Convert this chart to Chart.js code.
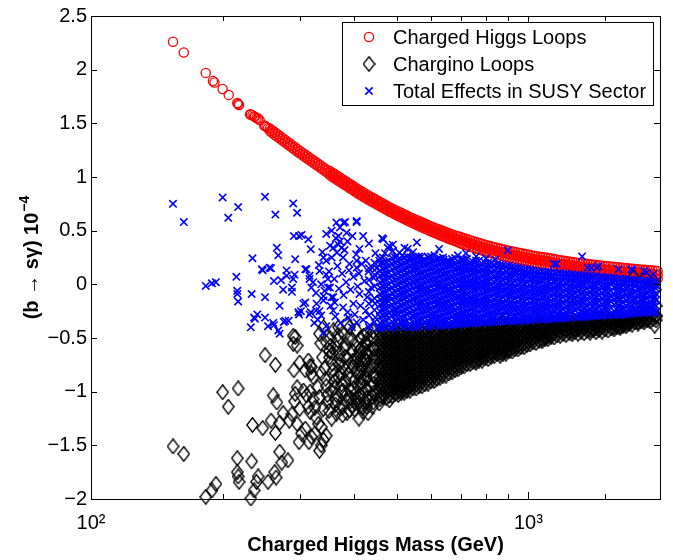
<!DOCTYPE html>
<html><head><meta charset="utf-8">
<script src="https://cdn.jsdelivr.net/npm/chart.js@4.4.1/dist/chart.umd.min.js"></script>
<style>html,body{margin:0;padding:0;background:#fff}canvas{display:block}</style>
</head><body>
<canvas id="c" width="673" height="560"></canvas>
<script>
// ---------- data ----------
const seriesLabels = ['Charged Higgs Loops', 'Chargino Loops', 'Total Effects in SUSY Sector'];
const xTitle = 'Charged Higgs Mass (GeV)';
const yTitleBase = '(b \u2192 s\u03B3) 10';
const yTitleExp = '\u22124';
const xTickLabels = {100: '10\u00B2', 1000: '10\u00B3'};
const yRange = [-2, 2.5];
const xRange = [100, 2000];

// Charged Higgs loops, isolated circles: [mass, value]
const chargedHiggs = [[154,2.26],[163,2.16],[183,1.97],[190,1.895],[191.5,1.88],[200,1.82],[206.5,1.765],[216,1.69],[217,1.68],[218,1.67],[231,1.585],[232,1.58],[234,1.575],[236,1.565],[237,1.56],[239,1.55],[241,1.545],[243,1.53],[249,1.48],[250,1.475],[252,1.465],[254,1.455]];

// Charged Higgs loops, continuous band read column by column: [mass, [values]]
const chargedHiggsColumns = [
[256.6,[1.451,1.427]],[260.0,[1.434,1.41]],[263.4,[1.416,1.392]],[266.9,[1.399,1.375]],
[270.4,[1.382,1.358]],[274.0,[1.364,1.34]],[277.6,[1.347,1.323]],[281.3,[1.329,1.305]],
[285.1,[1.312,1.288]],[288.9,[1.294,1.27]],[292.7,[1.277,1.253]],[296.6,[1.259,1.235]],
[300.6,[1.242,1.218]],[304.6,[1.226,1.202]],[308.6,[1.21,1.186]],[312.7,[1.193,1.169]],
[316.8,[1.177,1.153]],[321.0,[1.161,1.137]],[325.3,[1.145,1.121]],[329.6,[1.128,1.104]],
[333.9,[1.112,1.088]],[338.3,[1.096,1.072]],[342.8,[1.08,1.056]],[347.4,[1.063,1.039]],
[352.0,[1.055,1.035,1.015]],[356.7,[1.04,1.02,1.0]],[361.4,[1.025,1.005,0.985]],[366.2,[1.01,0.99,0.97]],
[371.0,[0.995,0.975,0.955]],[375.9,[0.98,0.96,0.94]],[380.9,[0.965,0.945,0.925]],[385.9,[0.95,0.93,0.91]],
[391.0,[0.935,0.915,0.895]],[396.2,[0.92,0.9,0.88]],[401.4,[0.905,0.885,0.865]],[406.8,[0.889,0.869,0.849]],
[412.2,[0.874,0.854,0.834]],[417.7,[0.86,0.84,0.82]],[423.2,[0.847,0.827,0.807]],[428.8,[0.833,0.813,0.793]],
[434.5,[0.819,0.799,0.779]],[440.3,[0.806,0.786,0.766]],[446.1,[0.794,0.774,0.754]],[452.0,[0.781,0.761,0.741]],
[458.0,[0.768,0.748,0.728]],[464.1,[0.755,0.735,0.715]],[470.2,[0.742,0.722,0.702]],[476.5,[0.729,0.709,0.689]],
[482.7,[0.716,0.696,0.676]],[489.1,[0.705,0.685,0.665]],[495.6,[0.693,0.673,0.653]],[502.2,[0.682,0.662,0.642]],
[508.9,[0.672,0.65,0.628]],[515.6,[0.661,0.639,0.617]],[522.5,[0.649,0.627,0.605]],[529.4,[0.638,0.616,0.594]],
[536.4,[0.626,0.604,0.582]],[543.5,[0.616,0.594,0.572]],[550.7,[0.605,0.583,0.561]],[558.0,[0.595,0.573,0.551]],
[565.4,[0.585,0.562,0.539]],[572.9,[0.575,0.552,0.529]],[580.5,[0.564,0.541,0.518]],[588.2,[0.554,0.531,0.508]],
[596.0,[0.544,0.52,0.496]],[603.9,[0.535,0.511,0.487]],[611.9,[0.526,0.502,0.478]],[620.0,[0.516,0.492,0.468]],
[628.2,[0.508,0.483,0.458]],[636.5,[0.499,0.474,0.449]],[645.0,[0.49,0.465,0.44]],[653.5,[0.48,0.455,0.43]],
[662.2,[0.472,0.446,0.42]],[671.0,[0.464,0.438,0.412]],[679.9,[0.456,0.43,0.404]],[688.9,[0.448,0.421,0.394]],
[698.0,[0.443,0.413,0.383]],[707.2,[0.435,0.405,0.375]],[716.6,[0.427,0.397,0.367]],[726.1,[0.419,0.389,0.359]],
[735.7,[0.411,0.381,0.351]],[745.5,[0.404,0.374,0.344]],[755.3,[0.397,0.367,0.337]],[765.3,[0.39,0.36,0.33]],
[775.5,[0.383,0.353,0.323]],[785.8,[0.376,0.346,0.316]],[796.2,[0.369,0.339,0.309]],[806.7,[0.362,0.332,0.302]],
[817.4,[0.356,0.325,0.294]],[828.2,[0.35,0.319,0.288]],[839.2,[0.345,0.314,0.283]],[850.3,[0.339,0.308,0.277]],
[861.7,[0.333,0.302,0.271]],[873.1,[0.327,0.296,0.265]],[884.7,[0.322,0.291,0.26]],[896.4,[0.316,0.285,0.254]],
[908.3,[0.311,0.279,0.247]],[920.3,[0.306,0.274,0.242]],[932.5,[0.302,0.27,0.238]],[944.9,[0.297,0.265,0.233]],
[957.4,[0.292,0.26,0.228]],[970.1,[0.287,0.255,0.223]],[982.9,[0.283,0.251,0.219]],[996.0,[0.278,0.246,0.214]],
[1009,[0.274,0.241,0.208]],[1022,[0.269,0.236,0.203]],[1036,[0.265,0.232,0.199]],[1050,[0.26,0.227,0.194]],
[1064,[0.257,0.223,0.189]],[1078,[0.254,0.22,0.186]],[1092,[0.25,0.216,0.182]],[1107,[0.247,0.213,0.179]],
[1121,[0.243,0.209,0.175]],[1136,[0.238,0.204,0.17]],[1151,[0.234,0.2,0.166]],[1166,[0.229,0.195,0.161]],
[1182,[0.224,0.19,0.156]],[1198,[0.221,0.187,0.153]],[1214,[0.217,0.183,0.149]],[1230,[0.214,0.18,0.146]],
[1246,[0.211,0.176,0.141]],[1262,[0.208,0.173,0.138]],[1279,[0.204,0.169,0.134]],[1296,[0.201,0.166,0.131]],
[1313,[0.197,0.162,0.127]],[1330,[0.195,0.16,0.125]],[1348,[0.193,0.158,0.123]],[1366,[0.19,0.155,0.12]],
[1384,[0.188,0.153,0.118]],[1402,[0.184,0.149,0.114]],[1421,[0.181,0.146,0.111]],[1440,[0.177,0.142,0.107]],
[1459,[0.175,0.139,0.103]],[1478,[0.173,0.137,0.101]],[1498,[0.171,0.135,0.099]],[1518,[0.168,0.132,0.096]],
[1538,[0.166,0.13,0.094]],[1558,[0.164,0.128,0.092]],[1579,[0.162,0.126,0.09]],[1600,[0.159,0.123,0.087]],
[1621,[0.157,0.121,0.085]],[1642,[0.154,0.118,0.082]],[1664,[0.152,0.116,0.08]],[1686,[0.149,0.113,0.077]],
[1709,[0.147,0.111,0.075]],[1732,[0.145,0.109,0.073]],[1755,[0.143,0.107,0.071]],[1778,[0.14,0.104,0.068]],
[1801,[0.138,0.102,0.066]],[1825,[0.136,0.1,0.064]],[1849,[0.135,0.099,0.063]],[1874,[0.133,0.097,0.061]],
[1898,[0.131,0.095,0.059]],[1923,[0.129,0.093,0.057]],[1949,[0.127,0.091,0.055]],[1975,[0.125,0.089,0.053]]];

// Chargino loops, isolated points: [mass, value]
const charginoScatter = [[154,-1.51],[163,-1.58],[183,-1.98],[189,-1.92],[193,-1.86],[200,-1.005],[206,-1.14],[217,-0.97],[216,-1.62],[216,-1.75],[217,-1.79],[218,-1.84],[232,-1.995],[234,-1.31],[233,-1.65],[236,-1.92],[239,-1.84],[241,-1.79],[247,-1.34],[250,-0.66],[264,-0.75],[254,-1.84],[258,-1.27],[261,-1.035],[266,-1.1],[264,-1.385],[263,-1.75],[265,-1.8],[270,-1.56],[273,-1.66],[270,-1.29],[275,-1.2],[282,-1.64],[284,-1.27],[288,-1.21],[290,-0.48],[296,-0.57],[293,-1.02],[291,-0.8],[300,-0.73],[314,-0.71],[299,-1.47],[303,-1.39],[309,-1.345],[296,-1.3],[311,-1.035],[314,-1.14],[317,-1.19],[315,-1.47],[319,-1.42],[325,-1.39],[317,-0.76],[319,-0.83],[333,-1.55],[336,-1.5],[340,-1.45],[330,-0.96],[333,-1.05],[327,-1.24],[331,-1.3],[336,-1.33],[345,-1.41],[345,-0.54],[351,-0.62],[358,-0.43],[368,-0.4],[377,-0.45],[385,-0.37],
[293,-0.49],[290,-0.555],[309,-0.8],[296,-0.96],[306,-0.99],[292,-1.09],[300,-1.16],[319,-0.77],[322,-0.865],[336,-0.83],[317,-1.0],[322,-1.07],[325,-1.15],[340,-1.16],[351,-0.68],[364,-0.59],[370,-0.65],[358,-0.8],[368,-0.865],[377,-0.77],[388,-0.83],[355,-0.99],[364,-1.03],[377,-0.99],[385,-1.09],[392,-0.99],[405,-1.08],[419,-1.02],[433,-1.08],[405,-0.68],[411,-0.62],[425,-0.555],[440,-0.49],[390,-0.4],[405,-0.43],[333,-0.46],[340,-0.4],[364,-1.205],[377,-1.14],[390,-1.175],[405,-1.11],[419,-1.19],[440,-1.14],[456,-1.11],[481,-1.08],
[352,-0.5],[356,-0.74],[360,-0.9],[362,-1.12],[366,-0.52],[372,-0.71],[374,-0.93],[383,-0.56],[386,-0.69],[395,-0.52],[398,-0.77],[400,-0.9],[402,-1.02],[410,-0.74],[414,-0.87],[420,-0.48],[428,-0.66],[432,-0.8],[436,-0.95],[444,-0.6],[446,-0.72],[448,-0.86],[450,-1.0],[345,-0.95],[348,-1.1],[355,-1.25],[370,-1.15],[385,-1.2],[395,-1.13],[410,-1.25],[425,-1.1],[440,-1.05],
[335,-0.55],[338,-0.68],[342,-0.78],[344,-0.88],[347,-1.03],[350,-1.18],[353,-0.57],[357,-0.64],[359,-0.85],[361,-0.96],[363,-1.08],[367,-0.47],[369,-0.75],[372,-0.83],[374,-1.0],[376,-1.22],[379,-0.6],[381,-0.68],[382,-0.9],[384,-1.03],[387,-0.5],[389,-0.76],[391,-0.88],[393,-1.06],[396,-0.62],[397,-0.71],[399,-0.97],[401,-1.17],[403,-0.57],[406,-0.82],[408,-0.95],[409,-1.05],[412,-0.66],[415,-0.78],[417,-0.92],[418,-1.15],[421,-0.6],[423,-0.7],[424,-0.85],[426,-0.98],[429,-0.51],[430,-1.2],[433,-0.62],[435,-0.75],
[1740,0.07],[1850,0.06],[1930,0.03],[1900,-0.1],[1950,-0.05],[1800,-0.15],[1620,-0.08],[1880,-0.125],[1960,-0.2],[1960,-0.3],[1945,-0.385]];

// Chargino loops, dense cloud read column by column: [mass, [values]]
const charginoColumns = [
[413,[-0.5,-0.6,-0.7,-0.81,-0.92,-1.03,-1.13]],
[427,[-0.46,-0.55,-0.63,-0.71,-0.8,-0.88,-0.97,-1.06,-1.14]],
[442,[-0.44,-0.51,-0.6,-0.68,-0.76,-0.85,-0.93,-1.01,-1.1]],
[458,[-0.45,-0.5,-0.54,-0.59,-0.63,-0.68,-0.72,-0.77,-0.81,-0.86,-0.9,-0.95,-0.99,-1.04,-1.07]],
[465,[-0.43,-0.48,-0.52,-0.57,-0.61,-0.66,-0.7,-0.75,-0.79,-0.84,-0.88,-0.93,-0.97,-1.02,-1.05]],
[473,[-0.47,-0.52,-0.56,-0.61,-0.65,-0.7,-0.74,-0.79,-0.83,-0.88,-0.92,-0.97,-1.01,-1.06]],
[480,[-0.45,-0.5,-0.54,-0.59,-0.63,-0.68,-0.72,-0.77,-0.81,-0.86,-0.9,-0.95,-0.99,-1.04]],
[488,[-0.45,-0.49,-0.54,-0.58,-0.63,-0.67,-0.72,-0.76,-0.81,-0.85,-0.9,-0.94,-0.99,-1.04]],
[496,[-0.43,-0.47,-0.52,-0.56,-0.61,-0.65,-0.7,-0.74,-0.79,-0.83,-0.88,-0.92,-0.97,-1.02]],
[504,[-0.46,-0.51,-0.55,-0.6,-0.64,-0.69,-0.73,-0.78,-0.82,-0.87,-0.91,-0.96,-1.0,-1.03]],
[512,[-0.44,-0.49,-0.53,-0.58,-0.62,-0.67,-0.71,-0.76,-0.8,-0.85,-0.89,-0.94,-0.98,-1.01]],
[520,[-0.44,-0.49,-0.53,-0.58,-0.62,-0.67,-0.71,-0.76,-0.8,-0.85,-0.89,-0.94,-0.98,-1.01]],
[528,[-0.42,-0.47,-0.51,-0.56,-0.6,-0.65,-0.69,-0.74,-0.78,-0.83,-0.87,-0.92,-0.96,-0.99]],
[536,[-0.46,-0.5,-0.55,-0.59,-0.64,-0.68,-0.73,-0.77,-0.82,-0.86,-0.91,-0.95,-0.99]],
[545,[-0.44,-0.48,-0.53,-0.57,-0.62,-0.66,-0.71,-0.75,-0.8,-0.84,-0.89,-0.93,-0.97]],
[554,[-0.44,-0.48,-0.53,-0.57,-0.62,-0.66,-0.71,-0.75,-0.8,-0.84,-0.89,-0.93,-0.97]],
[562,[-0.42,-0.46,-0.51,-0.55,-0.6,-0.64,-0.69,-0.73,-0.78,-0.82,-0.87,-0.91,-0.95]],
[571,[-0.45,-0.5,-0.54,-0.59,-0.63,-0.68,-0.72,-0.77,-0.81,-0.86,-0.9,-0.95]],
[580,[-0.43,-0.48,-0.52,-0.57,-0.61,-0.66,-0.7,-0.75,-0.79,-0.84,-0.88,-0.93]],
[590,[-0.43,-0.48,-0.52,-0.57,-0.61,-0.66,-0.7,-0.75,-0.79,-0.84,-0.88,-0.925]],
[599,[-0.41,-0.46,-0.5,-0.55,-0.59,-0.64,-0.68,-0.73,-0.77,-0.82,-0.86,-0.905]],
[609,[-0.45,-0.49,-0.54,-0.58,-0.63,-0.67,-0.72,-0.76,-0.81,-0.85,-0.9]],
[618,[-0.43,-0.47,-0.52,-0.56,-0.61,-0.65,-0.7,-0.74,-0.79,-0.83,-0.88]],
[628,[-0.42,-0.47,-0.51,-0.56,-0.6,-0.65,-0.69,-0.74,-0.78,-0.83,-0.87]],
[638,[-0.4,-0.45,-0.49,-0.54,-0.58,-0.63,-0.67,-0.72,-0.76,-0.81,-0.85]],
[648,[-0.44,-0.48,-0.53,-0.57,-0.62,-0.66,-0.71,-0.75,-0.8,-0.85]],
[658,[-0.42,-0.46,-0.51,-0.55,-0.6,-0.64,-0.69,-0.73,-0.78,-0.83]],
[669,[-0.42,-0.46,-0.51,-0.55,-0.6,-0.64,-0.69,-0.73,-0.78,-0.82]],
[680,[-0.4,-0.44,-0.49,-0.53,-0.58,-0.62,-0.67,-0.71,-0.76,-0.8]],
[691,[-0.43,-0.48,-0.52,-0.57,-0.61,-0.66,-0.7,-0.75,-0.79]],
[702,[-0.41,-0.46,-0.5,-0.55,-0.59,-0.64,-0.68,-0.73,-0.77]],
[713,[-0.41,-0.45,-0.5,-0.54,-0.59,-0.63,-0.68,-0.72,-0.765]],
[724,[-0.39,-0.43,-0.48,-0.52,-0.57,-0.61,-0.66,-0.7,-0.745]],
[736,[-0.42,-0.47,-0.51,-0.56,-0.6,-0.65,-0.69,-0.74]],
[747,[-0.4,-0.45,-0.49,-0.54,-0.58,-0.63,-0.67,-0.72]],
[759,[-0.4,-0.44,-0.49,-0.53,-0.58,-0.62,-0.67,-0.71,-0.73]],
[771,[-0.38,-0.42,-0.47,-0.51,-0.56,-0.6,-0.65,-0.69,-0.71]],
[784,[-0.41,-0.46,-0.5,-0.55,-0.59,-0.64,-0.68,-0.71]],
[796,[-0.39,-0.44,-0.48,-0.53,-0.57,-0.62,-0.66,-0.69]],
[809,[-0.39,-0.43,-0.48,-0.52,-0.57,-0.61,-0.66,-0.695]],
[822,[-0.37,-0.41,-0.46,-0.5,-0.55,-0.59,-0.64,-0.675]],
[835,[-0.4,-0.45,-0.49,-0.54,-0.58,-0.63,-0.67]],
[848,[-0.38,-0.43,-0.47,-0.52,-0.56,-0.61,-0.65]],
[862,[-0.38,-0.42,-0.47,-0.51,-0.56,-0.6,-0.64,-0.665]],
[875,[-0.36,-0.4,-0.45,-0.49,-0.54,-0.58,-0.62,-0.645]],
[889,[-0.4,-0.44,-0.49,-0.53,-0.58,-0.62,-0.645]],
[903,[-0.38,-0.42,-0.47,-0.51,-0.56,-0.6,-0.625]],
[918,[-0.37,-0.41,-0.46,-0.5,-0.55,-0.59,-0.625]],
[932,[-0.35,-0.39,-0.44,-0.48,-0.53,-0.57,-0.605]],
[947,[-0.39,-0.43,-0.48,-0.52,-0.57,-0.605]],
[962,[-0.37,-0.41,-0.46,-0.5,-0.55,-0.585]],
[978,[-0.37,-0.41,-0.46,-0.5,-0.55,-0.585]],
[993,[-0.35,-0.39,-0.44,-0.48,-0.53,-0.565]],
[1009,[-0.38,-0.43,-0.47,-0.52,-0.56]],
[1025,[-0.36,-0.41,-0.45,-0.5,-0.54]],
[1041,[-0.36,-0.4,-0.45,-0.49,-0.545]],
[1058,[-0.34,-0.38,-0.43,-0.47,-0.525]],
[1075,[-0.37,-0.42,-0.46,-0.51,-0.53]],
[1092,[-0.35,-0.4,-0.44,-0.49,-0.51]],
[1109,[-0.35,-0.39,-0.44,-0.48,-0.51]],
[1127,[-0.33,-0.37,-0.42,-0.46,-0.49]],
[1145,[-0.36,-0.41,-0.45,-0.495]],
[1163,[-0.34,-0.39,-0.43,-0.475]],
[1182,[-0.35,-0.39,-0.44,-0.48]],
[1201,[-0.33,-0.37,-0.42,-0.46]],
[1220,[-0.34,-0.38,-0.43,-0.47]],
[1239,[-0.32,-0.36,-0.41,-0.45]],
[1259,[-0.36,-0.4,-0.44,-0.465]],
[1279,[-0.34,-0.38,-0.42,-0.445]],
[1299,[-0.34,-0.38,-0.42,-0.46]],
[1320,[-0.32,-0.36,-0.4,-0.44]],
[1341,[-0.33,-0.37,-0.41,-0.455]],
[1362,[-0.31,-0.35,-0.39,-0.435]],
[1384,[-0.35,-0.39,-0.43,-0.45]],
[1406,[-0.33,-0.37,-0.41,-0.43]],
[1428,[-0.33,-0.37,-0.41,-0.445]],
[1451,[-0.31,-0.35,-0.39,-0.425]],
[1474,[-0.32,-0.36,-0.4,-0.44]],
[1498,[-0.3,-0.34,-0.38,-0.42]],
[1522,[-0.34,-0.38,-0.43]],
[1546,[-0.32,-0.36,-0.41]],
[1570,[-0.32,-0.36,-0.4,-0.42]],
[1595,[-0.3,-0.34,-0.38,-0.4]],
[1621,[-0.31,-0.35,-0.39,-0.405]],
[1647,[-0.29,-0.33,-0.37,-0.385]],
[1673,[-0.33,-0.37,-0.39]],
[1700,[-0.31,-0.35,-0.37]],
[1727,[-0.3,-0.34,-0.375]],
[1754,[-0.28,-0.32,-0.355]],
[1782,[-0.31,-0.35,-0.365]],
[1810,[-0.29,-0.33,-0.345]],
[1839,[-0.29,-0.33,-0.355]],
[1868,[-0.27,-0.31,-0.335]],
[1898,[-0.3,-0.345]],
[1928,[-0.28,-0.325]],
[1959,[-0.29,-0.335]]];

// Total effects, isolated points: [mass, value]
const totalScatter = [[154,0.75],[163,0.58],[200,0.81],[206,0.62],[217,0.72],[250,0.815],[264,0.65],[290,0.754],[296,0.667],
[183,-0.015],[189,0.01],[193,0.02],[215,0.07],[216,-0.06],[216,-0.09],[217,-0.16],[233,-0.09],[232,-0.4],[237,-0.32],[240,-0.28],[236,-0.31],[250,-0.12],[247,0.13],[258,0.15],[250,-0.31],[254,-0.39],[261,-0.36],[268,-0.43],[270,-0.46],[270,-0.2],[272,0.04],[280,0.08],[275,-0.05],[278,-0.34],[283,-0.34],[290,0.05],[292,0.09],[299,-0.28],[302,-0.25],[309,-0.17],[311,0.14],[316,0.05],[322,0.02],[327,-0.08],[328,-0.18],[333,-0.25],[336,-0.29],[318,-0.26],[345,0.09],[348,0.05],[340,-0.45],[345,-0.39],[352,-0.03],[358,-0.12],[361,-0.17],
[234,0.243],[246,0.14],[256,0.155],[266,0.34],[268,0.27],[280,0.13],[291,0.45],[293,0.234],[299,0.45],[314,0.42],[318,0.327],[345,0.47],[340,0.25],[355,0.5],[364,0.575],[381,0.58],[384,0.48],[405,0.58],[358,0.34],[371,0.4],[262,0.03],[288,-0.03],[298,-0.26],[262,-0.38],[276,-0.35],[288,-0.07],
[303,0.46],[309,0.14],[316,0.08],[319,-0.03],[333,0.125],[345,0.22],[355,0.25],[368,0.45],[371,0.53],[368,0.37],[365,0.295],[377,0.25],[390,0.19],[405,0.22],[411,0.33],[466,0.42],[481,0.36],[490,0.31],[507,0.295],[521,0.34],[556,0.39],[340,-0.11],[348,-0.03],[405,0.155],[425,0.22],[440,0.155],[456,0.22],[466,0.095],
[306,-0.18],[316,-0.28],[327,-0.245],[340,-0.15],[355,-0.12],[358,-0.245],[377,-0.215],[388,-0.31],[398,-0.18],[405,-0.355],[411,-0.09],[425,-0.245],[440,-0.15],[447,-0.31],[466,-0.215],[481,-0.12],[497,-0.245],
[378,0.574],[405,0.59],[463,0.43],[477,0.34],[490,0.37],[530,0.33],[537,0.25],[593,0.25],[625,0.33],[659,0.19],[709,0.234],[732,0.19],[897,0.317],[1160,0.19],[1327,0.26],[1392,0.155],[1448,0.17],[1608,0.14],[1719,0.14],[1840,0.125],[1144,0.19],[1366,0.155],[1433,0.155],[1731,0.13],[1866,0.11],[1932,0.095],
[336,0.0],[342,-0.06],[350,0.12],[353,-0.2],[360,0.05],[362,-0.3],[366,0.17],[369,-0.04],[372,-0.36],[375,0.1],[378,-0.1],[380,0.32],[383,0.02],[386,-0.26],[389,0.13],[392,-0.05],[395,-0.4],[398,0.07],[401,-0.28],[404,0.28],[407,-0.02],[410,0.1],[413,-0.2],[416,0.19],[419,-0.33],[422,0.03],[428,-0.12],[431,0.12],[434,-0.38],[437,-0.03],[443,0.06],[446,-0.18],[450,0.15],[453,-0.4],[330,-0.33],[332,0.18],[324,-0.36],[338,0.3],[352,0.36],[363,0.43],[374,0.34],[386,0.4],[396,0.45],[419,0.45],[432,0.38],[447,0.29],[470,0.29],[500,0.26],[515,0.27],[545,0.3],[570,0.26],[575,0.21],[610,0.27],[640,0.23],[690,0.27],[720,0.29],[760,0.26],[800,0.24],[840,0.23]];

// Total effects, dense cloud read column by column: [mass, [values]]
const totalColumns = [
[432,[0.15,0.04,-0.07,-0.18,-0.29,-0.4]],
[445,[0.2,0.09,-0.02,-0.13,-0.24,-0.35]],
[458,[0.24,0.19,0.13,0.08,0.02,-0.03,-0.09,-0.14,-0.19,-0.25,-0.3,-0.36,-0.41]],
[465,[0.25,0.2,0.14,0.09,0.03,-0.02,-0.08,-0.13,-0.18,-0.24,-0.29,-0.35,-0.4]],
[473,[0.21,0.16,0.1,0.05,-0.01,-0.06,-0.12,-0.17,-0.22,-0.28,-0.33,-0.39]],
[480,[0.22,0.17,0.11,0.06,0.0,-0.05,-0.11,-0.16,-0.21,-0.27,-0.32,-0.38]],
[488,[0.245,0.19,0.14,0.08,0.03,-0.03,-0.08,-0.13,-0.19,-0.24,-0.29,-0.35,-0.405]],
[496,[0.25,0.2,0.15,0.09,0.04,-0.02,-0.07,-0.12,-0.18,-0.23,-0.28,-0.34,-0.395]],
[504,[0.22,0.17,0.11,0.06,0.0,-0.05,-0.1,-0.16,-0.21,-0.27,-0.32,-0.37]],
[512,[0.23,0.18,0.12,0.07,0.01,-0.04,-0.09,-0.15,-0.2,-0.26,-0.31,-0.36]],
[520,[0.25,0.2,0.14,0.09,0.03,-0.02,-0.08,-0.13,-0.18,-0.24,-0.29,-0.35,-0.4]],
[528,[0.26,0.21,0.15,0.1,0.04,-0.01,-0.07,-0.12,-0.17,-0.23,-0.28,-0.34,-0.39]],
[536,[0.23,0.17,0.12,0.06,0.01,-0.05,-0.1,-0.15,-0.21,-0.26,-0.31,-0.37]],
[545,[0.24,0.18,0.13,0.07,0.02,-0.04,-0.09,-0.14,-0.2,-0.25,-0.3,-0.36,-0.4]],
[554,[0.25,0.19,0.14,0.09,0.03,-0.02,-0.07,-0.13,-0.18,-0.23,-0.29,-0.34,-0.4]],
[562,[0.26,0.2,0.15,0.1,0.04,-0.01,-0.06,-0.12,-0.17,-0.22,-0.28,-0.33,-0.39]],
[571,[0.22,0.17,0.11,0.06,0.0,-0.05,-0.1,-0.16,-0.21,-0.26,-0.32,-0.37]],
[580,[0.23,0.18,0.12,0.07,0.01,-0.04,-0.09,-0.15,-0.2,-0.25,-0.31,-0.36]],
[590,[0.25,0.19,0.14,0.08,0.03,-0.03,-0.08,-0.13,-0.19,-0.24,-0.29,-0.34,-0.395]],
[599,[0.26,0.2,0.15,0.09,0.04,-0.02,-0.07,-0.12,-0.18,-0.23,-0.28,-0.33,-0.385]],
[609,[0.22,0.16,0.11,0.05,0.0,-0.05,-0.11,-0.16,-0.21,-0.27,-0.32,-0.37]],
[618,[0.23,0.17,0.12,0.06,0.01,-0.04,-0.1,-0.15,-0.2,-0.26,-0.31,-0.36]],
[628,[0.24,0.19,0.13,0.08,0.02,-0.03,-0.08,-0.14,-0.19,-0.24,-0.3,-0.35,-0.39]],
[638,[0.25,0.2,0.14,0.09,0.03,-0.02,-0.07,-0.13,-0.18,-0.23,-0.29,-0.34,-0.38]],
[648,[0.21,0.16,0.1,0.05,-0.01,-0.06,-0.11,-0.17,-0.22,-0.27,-0.33,-0.385]],
[658,[0.22,0.17,0.11,0.06,0.0,-0.05,-0.1,-0.16,-0.21,-0.26,-0.32,-0.375]],
[669,[0.235,0.18,0.13,0.07,0.02,-0.04,-0.09,-0.14,-0.2,-0.25,-0.3,-0.35,-0.38]],
[680,[0.245,0.19,0.14,0.08,0.03,-0.03,-0.08,-0.13,-0.19,-0.24,-0.29,-0.34,-0.37]],
[691,[0.21,0.15,0.1,0.04,-0.01,-0.06,-0.12,-0.17,-0.22,-0.28,-0.33,-0.375]],
[702,[0.22,0.16,0.11,0.05,0.0,-0.05,-0.11,-0.16,-0.21,-0.27,-0.32,-0.365]],
[713,[0.225,0.17,0.12,0.06,0.01,-0.04,-0.1,-0.15,-0.2,-0.26,-0.31,-0.37]],
[724,[0.235,0.18,0.13,0.07,0.02,-0.03,-0.09,-0.14,-0.19,-0.25,-0.3,-0.36]],
[736,[0.2,0.14,0.09,0.03,-0.02,-0.07,-0.13,-0.18,-0.23,-0.29,-0.34,-0.365]],
[747,[0.21,0.15,0.1,0.04,-0.01,-0.06,-0.12,-0.17,-0.22,-0.28,-0.33,-0.36]],
[759,[0.22,0.16,0.11,0.05,0.0,-0.05,-0.11,-0.16,-0.21,-0.27,-0.32,-0.36]],
[771,[0.22,0.17,0.12,0.06,0.01,-0.04,-0.1,-0.15,-0.2,-0.26,-0.31,-0.355]],
[784,[0.19,0.13,0.08,0.02,-0.03,-0.08,-0.14,-0.19,-0.24,-0.3,-0.36]],
[796,[0.2,0.14,0.09,0.03,-0.02,-0.07,-0.13,-0.18,-0.23,-0.29,-0.35]],
[809,[0.2,0.15,0.1,0.04,-0.01,-0.06,-0.12,-0.17,-0.22,-0.28,-0.32,-0.355]],
[822,[0.2,0.16,0.11,0.05,0.0,-0.05,-0.11,-0.16,-0.21,-0.27,-0.31,-0.35]],
[835,[0.18,0.13,0.07,0.02,-0.04,-0.09,-0.14,-0.2,-0.25,-0.3,-0.35]],
[848,[0.19,0.14,0.08,0.03,-0.03,-0.08,-0.13,-0.19,-0.24,-0.29,-0.34]],
[862,[0.185,0.14,0.09,0.03,-0.02,-0.07,-0.13,-0.18,-0.23,-0.29,-0.35]],
[875,[0.18,0.15,0.1,0.04,-0.01,-0.06,-0.12,-0.17,-0.22,-0.28,-0.34]],
[889,[0.17,0.12,0.06,0.01,-0.05,-0.1,-0.15,-0.21,-0.26,-0.31,-0.345]],
[903,[0.175,0.13,0.07,0.02,-0.04,-0.09,-0.14,-0.2,-0.25,-0.3,-0.34]],
[918,[0.165,0.13,0.08,0.02,-0.03,-0.08,-0.14,-0.19,-0.24,-0.3,-0.345]],
[932,[0.16,0.12,0.09,0.03,-0.02,-0.07,-0.13,-0.18,-0.23,-0.29,-0.34]],
[947,[0.155,0.11,0.05,0.0,-0.06,-0.11,-0.16,-0.22,-0.27,-0.32,-0.34]],
[962,[0.15,0.11,0.06,0.01,-0.05,-0.1,-0.15,-0.21,-0.26,-0.31,-0.335]],
[978,[0.14,0.1,0.07,0.01,-0.04,-0.09,-0.15,-0.2,-0.25,-0.31,-0.34]],
[993,[0.14,0.1,0.08,0.02,-0.03,-0.08,-0.14,-0.19,-0.24,-0.3,-0.335]],
[1009,[0.135,0.1,0.04,-0.01,-0.07,-0.12,-0.17,-0.23,-0.28,-0.335]],
[1025,[0.13,0.09,0.05,0.0,-0.06,-0.11,-0.16,-0.22,-0.27,-0.33]],
[1041,[0.125,0.09,0.06,0.0,-0.05,-0.1,-0.16,-0.21,-0.26,-0.32]],
[1058,[0.12,0.08,0.05,0.01,-0.04,-0.09,-0.15,-0.2,-0.25,-0.31]],
[1075,[0.12,0.08,0.03,-0.03,-0.08,-0.13,-0.19,-0.24,-0.29,-0.33]],
[1092,[0.115,0.08,0.04,-0.02,-0.07,-0.12,-0.18,-0.23,-0.28,-0.325]],
[1109,[0.115,0.08,0.04,-0.01,-0.06,-0.12,-0.17,-0.22,-0.28,-0.325]],
[1127,[0.11,0.07,0.05,0.0,-0.05,-0.11,-0.16,-0.21,-0.27,-0.32]],
[1145,[0.11,0.07,0.02,-0.04,-0.09,-0.14,-0.2,-0.25,-0.3,-0.32]],
[1163,[0.105,0.07,0.03,-0.03,-0.08,-0.13,-0.19,-0.24,-0.29,-0.315]],
[1182,[0.105,0.07,0.03,-0.02,-0.08,-0.13,-0.18,-0.24,-0.29,-0.32]],
[1201,[0.1,0.07,0.04,-0.01,-0.07,-0.12,-0.17,-0.23,-0.28,-0.315]],
[1220,[0.1,0.06,0.01,-0.05,-0.1,-0.15,-0.21,-0.26,-0.315]],
[1239,[0.095,0.06,0.02,-0.04,-0.09,-0.14,-0.2,-0.25,-0.31]],
[1259,[0.095,0.06,0.02,-0.03,-0.09,-0.14,-0.19,-0.25,-0.31]],
[1279,[0.09,0.06,0.03,-0.02,-0.08,-0.13,-0.18,-0.24,-0.3]],
[1299,[0.09,0.05,-0.01,-0.06,-0.11,-0.17,-0.22,-0.27,-0.31]],
[1320,[0.085,0.05,0.0,-0.05,-0.1,-0.16,-0.21,-0.26,-0.305]],
[1341,[0.085,0.05,0.01,-0.05,-0.1,-0.15,-0.21,-0.26,-0.305]],
[1362,[0.08,0.05,0.02,-0.04,-0.09,-0.14,-0.2,-0.25,-0.3]],
[1384,[0.08,0.04,-0.02,-0.07,-0.12,-0.18,-0.23,-0.28,-0.3]],
[1406,[0.075,0.04,-0.01,-0.06,-0.11,-0.17,-0.22,-0.27,-0.295]],
[1428,[0.075,0.04,0.0,-0.06,-0.11,-0.16,-0.22,-0.27,-0.295]],
[1451,[0.07,0.04,0.01,-0.05,-0.1,-0.15,-0.21,-0.26,-0.29]],
[1474,[0.07,0.03,-0.03,-0.08,-0.13,-0.19,-0.24,-0.295]],
[1498,[0.065,0.03,-0.02,-0.07,-0.12,-0.18,-0.23,-0.285]],
[1522,[0.065,0.03,-0.01,-0.07,-0.12,-0.17,-0.23,-0.29]],
[1546,[0.06,0.03,0.0,-0.06,-0.11,-0.16,-0.22,-0.28]],
[1570,[0.06,0.02,-0.03,-0.09,-0.14,-0.19,-0.25,-0.285]],
[1595,[0.055,0.02,-0.02,-0.08,-0.13,-0.18,-0.24,-0.28]],
[1621,[0.055,0.02,-0.02,-0.07,-0.13,-0.18,-0.23,-0.285]],
[1647,[0.05,0.02,-0.01,-0.06,-0.12,-0.17,-0.22,-0.28]],
[1673,[0.05,0.01,-0.04,-0.1,-0.15,-0.2,-0.26,-0.28]],
[1700,[0.045,0.01,-0.03,-0.09,-0.14,-0.19,-0.25,-0.275]],
[1727,[0.045,0.01,-0.03,-0.08,-0.14,-0.19,-0.24,-0.275]],
[1754,[0.04,0.01,-0.02,-0.07,-0.13,-0.18,-0.23,-0.27]],
[1782,[0.04,0.0,-0.05,-0.11,-0.16,-0.21,-0.27]],
[1810,[0.035,0.0,-0.04,-0.1,-0.15,-0.2,-0.26]],
[1839,[0.035,0.0,-0.03,-0.09,-0.14,-0.19,-0.24,-0.265]],
[1868,[0.03,0.0,-0.02,-0.08,-0.13,-0.18,-0.23,-0.26]],
[1898,[0.03,-0.01,-0.06,-0.11,-0.16,-0.22,-0.265]],
[1928,[0.025,-0.01,-0.05,-0.1,-0.15,-0.21,-0.26]],
[1959,[0.025,-0.01,-0.04,-0.09,-0.15,-0.2,-0.26]]];

// ---------- build ----------
const FONT = "'Liberation Sans', Arial, Helvetica, sans-serif";
const pairsToPts = p => p.map(([x, y]) => ({x, y}));
const colsToPts = c => c.flatMap(([x, ys]) => ys.map(y => ({x, y})));

// tall diamond marker like the reference
function diamondCanvas() {
  const w = 13, h = 16, cv = document.createElement('canvas');
  cv.width = w; cv.height = h;
  const g = cv.getContext('2d');
  g.strokeStyle = '#000'; g.lineWidth = 1.4;
  g.beginPath();
  g.moveTo(w / 2, 0.8); g.lineTo(w - 0.8, h / 2); g.lineTo(w / 2, h - 0.8); g.lineTo(0.8, h / 2); g.closePath();
  g.stroke();
  return cv;
}
const diamond = diamondCanvas();

const markerStyles = [
  {pointStyle: 'circle', radius: 4.6, color: '#ff0000', width: 1.3},
  {pointStyle: diamond, radius: 6, color: '#000000', width: 1.4},
  {pointStyle: 'crossRot', radius: 5.2, color: '#0000ff', width: 1.6}
];

const axisBox = {
  id: 'axisBox',
  beforeDraw(chart) {
    const c = chart.ctx; c.save(); c.fillStyle = '#fff'; c.fillRect(0, 0, chart.width, chart.height); c.restore();
  },
  afterDatasetsDraw(chart) {
    const {ctx, chartArea: a, scales} = chart;
    ctx.save();
    ctx.strokeStyle = '#000'; ctx.lineWidth = 1;
    ctx.strokeRect(Math.round(a.left) + 0.5, Math.round(a.top) + 0.5, Math.round(a.right - a.left), Math.round(a.bottom - a.top));
    ctx.beginPath();
    scales.x.ticks.forEach(t => {
      const px = Math.round(scales.x.getPixelForValue(t.value)) + 0.5;
      if (px <= a.left + 1 || px >= a.right - 1) return;
      const len = (t.value === 1000) ? 7 : 5;
      ctx.moveTo(px, a.bottom); ctx.lineTo(px, a.bottom - len);
      ctx.moveTo(px, a.top); ctx.lineTo(px, a.top + len);
    });
    scales.y.ticks.forEach(t => {
      const py = Math.round(scales.y.getPixelForValue(t.value)) + 0.5;
      if (py <= a.top + 1 || py >= a.bottom - 1) return;
      ctx.moveTo(a.left, py); ctx.lineTo(a.left + 6, py);
      ctx.moveTo(a.right, py); ctx.lineTo(a.right - 6, py);
    });
    ctx.stroke();
    ctx.restore();
  },
  afterDraw(chart) {
    const {ctx, chartArea: a} = chart;
    // y-axis title with a real superscript
    ctx.save();
    ctx.translate(31, (a.top + a.bottom) / 2);
    ctx.rotate(-Math.PI / 2);
    ctx.fillStyle = '#000';
    ctx.textBaseline = 'middle';
    ctx.textAlign = 'left';
    const fBase = 'bold 20px ' + FONT, fExp = 'bold 14px ' + FONT;
    ctx.font = fBase; const wb = ctx.measureText(yTitleBase).width;
    ctx.font = fExp; const we = ctx.measureText(yTitleExp).width;
    const x0 = -(wb + we + 1) / 2;
    ctx.font = fBase; ctx.fillText(yTitleBase, x0, 1);
    ctx.font = fExp; ctx.fillText(yTitleExp, x0 + wb + 1, -6);
    ctx.restore();

    // legend
    const right = a.right - 7, top = a.top + 6, w = 311, h = 83;
    const left = right - w;
    ctx.save();
    ctx.fillStyle = '#fff';
    ctx.fillRect(left, top, w, h);
    ctx.strokeStyle = '#000'; ctx.lineWidth = 1;
    ctx.strokeRect(Math.round(left) + 0.5, Math.round(top) + 0.5, w, h);
    ctx.font = '20px ' + FONT;
    ctx.textBaseline = 'middle';
    ctx.textAlign = 'left';
    chart.data.datasets.forEach((ds, i) => {
      const m = markerStyles[i];
      const cy = top + 15 + i * 27;
      ctx.strokeStyle = m.color; ctx.fillStyle = 'rgba(0,0,0,0)'; ctx.lineWidth = m.width;
      Chart.helpers.drawPoint(ctx, {pointStyle: m.pointStyle, radius: m.radius, rotation: 0, borderWidth: m.width}, left + 27, cy);
      ctx.fillStyle = '#000';
      ctx.save();
      ctx.beginPath(); ctx.rect(left, top, w, h); ctx.clip();
      ctx.fillText(ds.label, left + 51, cy + 1);
      ctx.restore();
    });
    ctx.restore();
  }
};

function makeDataset(i, pts, order) {
  const m = markerStyles[i];
  return {
    label: seriesLabels[i], data: pts, order,
    pointStyle: m.pointStyle, pointRadius: m.radius, pointHoverRadius: m.radius,
    borderColor: m.color, backgroundColor: 'rgba(0,0,0,0)', pointBorderWidth: m.width,
    showLine: false, clip: false
  };
}

new Chart(document.getElementById('c'), {
  type: 'scatter',
  data: {
    datasets: [
      makeDataset(0, pairsToPts(chargedHiggs).concat(colsToPts(chargedHiggsColumns)), 3),
      makeDataset(1, pairsToPts(charginoScatter).concat(colsToPts(charginoColumns)), 2),
      makeDataset(2, pairsToPts(totalScatter).concat(colsToPts(totalColumns)), 1)
    ]
  },
  options: {
    responsive: false, animation: false, devicePixelRatio: 1,
    layout: {padding: {left: 0, top: 14, right: 13, bottom: 0}},
    plugins: {legend: {display: false}, tooltip: {enabled: false}},
    events: [],
    scales: {
      x: {
        type: 'logarithmic', min: xRange[0], max: xRange[1],
        grid: {display: false, drawTicks: false}, border: {display: false},
        afterFit(s) { s.height = 61; },
        ticks: {
          autoSkip: false, maxRotation: 0, padding: 12, color: '#000',
          font: {family: FONT, size: 20},
          callback: v => xTickLabels[v] || ''
        },
        title: {display: true, text: xTitle, color: '#000', font: {family: FONT, size: 20, weight: 'bold'}, padding: {top: 0, bottom: 3}}
      },
      y: {
        type: 'linear', min: yRange[0], max: yRange[1],
        grid: {display: false, drawTicks: false}, border: {display: false},
        afterFit(s) { s.width = 91; },
        ticks: {
          stepSize: 0.5, padding: 4, color: '#000',
          font: {family: FONT, size: 20},
          callback: v => String(Math.round(v * 10) / 10).replace('-', '\u2212')
        },
        title: {display: false, text: yTitleBase + yTitleExp}
      }
    }
  },
  plugins: [axisBox]
});
</script>
</body></html>
